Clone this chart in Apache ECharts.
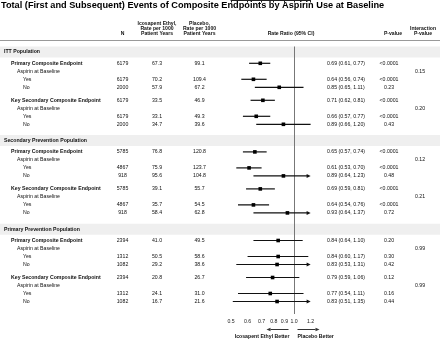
<!DOCTYPE html>
<html>
<head>
<meta charset="utf-8">
<script src="https://cdn.jsdelivr.net/npm/echarts@6/dist/echarts.min.js"></script>
<style>
  html, body { margin: 0; padding: 0; background: #fff; }
  #chart { width: 440px; height: 343px; }
</style>
</head>
<body>
<div id="chart"></div>
<script>
// ---- data ----
const populations = ['ITT Population', 'Secondary Prevention Population', 'Primary Prevention Population'];
const endpoints = ['Primary Composite Endpoint', 'Key Secondary Composite Endpoint'];
const subgroupTitle = 'Aspirin at Baseline';
const subgroups = ['Yes', 'No'];

// one value per plotted row: population x endpoint x (overall, Yes, No)
const patientsN     = [6179, 6179, 2000, 6179, 6179, 2000, 5785, 4867, 918, 5785, 4867, 918, 2394, 1312, 1082, 2394, 1312, 1082];
const icosapentRate = [67.3, 70.2, 57.9, 33.5, 33.1, 34.7, 76.8, 75.9, 95.6, 39.1, 35.7, 58.4, 41.0, 50.5, 29.2, 20.8, 24.1, 16.7];
const placeboRate   = [99.1, 109.4, 67.2, 46.9, 49.3, 39.6, 120.8, 123.7, 104.8, 55.7, 54.5, 62.8, 49.5, 58.6, 38.6, 26.7, 31.0, 21.6];
const rateRatio     = [0.69, 0.64, 0.85, 0.71, 0.66, 0.89, 0.65, 0.61, 0.89, 0.69, 0.64, 0.93, 0.84, 0.84, 0.83, 0.79, 0.77, 0.83];
const ciLower       = [0.61, 0.56, 0.65, 0.62, 0.57, 0.66, 0.57, 0.53, 0.64, 0.59, 0.54, 0.64, 0.64, 0.60, 0.53, 0.59, 0.54, 0.51];
const ciUpper       = [0.77, 0.74, 1.11, 0.81, 0.77, 1.20, 0.74, 0.70, 1.23, 0.81, 0.76, 1.37, 1.10, 1.17, 1.31, 1.06, 1.11, 1.35];
const pValues       = ['<0.0001', '<0.0001', '0.23', '<0.0001', '<0.0001', '0.43',
                       '<0.0001', '<0.0001', '0.48', '<0.0001', '<0.0001', '0.72',
                       '0.20', '0.30', '0.42', '0.12', '0.16', '0.44'];
// one value per population x endpoint
const interactionP  = ['0.15', '0.20', '0.12', '0.21', '0.99', '0.99'];

const axisTicks = [0.5, 0.6, 0.7, 0.8, 0.9, 1.0, 1.2];
const AXIS_MIN = 0.5, AXIS_MAX = 1.2;

const headerN         = ['N'];
const headerIcosapent = ['Icosapent Ethyl,', 'Rate per 1000', 'Patient Years'];
const headerPlacebo   = ['Placebo,', 'Rate per 1000', 'Patient Years'];
const headerRatio     = ['Rate Ratio (95% CI)'];
const headerP         = ['P-value'];
const headerInter     = ['Interaction', 'P-value'];
const favourLeft  = 'Icosapent Ethyl Better';
const favourRight = 'Placebo Better';
const titleText = 'Total (First and Subsequent) Events of Composite Endpoints by Aspirin Use at Baseline';

// ---- layout ----
const FONT = '"Liberation Sans", Arial, Helvetica, sans-serif';
const F_HEAD = 'bold 5.1px ' + FONT;
const F_BOLD = 'bold 5.2px ' + FONT;
const F_NORM = '5.2px ' + FONT;
const W = 440, H = 343, AXIS_Y = 314;
const ROW = 8, HEAD_GAP = 11.3, EP_GAP = 13, SEC_GAP = 16.3, FIRST_Y = 52, BAND_H = 11;
const COL = { section: 4, endpoint: 11, subtitle: 17, subgroup: 23, n: 122.5, ico: 157, pla: 199.5, ratio: 327, p: 389, inter: 420 };
const HEADER_BOTTOM = 34, HEADER_LINE = 5, RULE_Y = 40;

const L = Math.log;
const texts = [];
const sectionY = [];
const rowY = [];
function addText(x, y, text, font, align) {
  texts.push({ x, y, text, font, align: align || 'left' });
}

// column headers, bottom aligned
[[headerN, COL.n], [headerIcosapent, COL.ico], [headerPlacebo, COL.pla],
 [headerRatio, 291], [headerP, 393], [headerInter, 423]].forEach(([lines, x]) => {
  lines.forEach((t, k) => addText(x, HEADER_BOTTOM - (lines.length - 1 - k) * HEADER_LINE, t, F_HEAD, 'center'));
});

let y = FIRST_Y;
populations.forEach((pop, p) => {
  if (p > 0) y += SEC_GAP;
  sectionY.push(y);
  addText(COL.section, y, pop, F_BOLD);
  endpoints.forEach((ep, e) => {
    y += e === 0 ? HEAD_GAP : EP_GAP;
    const g = p * endpoints.length + e;
    const base = g * 3;
    rowY[base] = y;
    addText(COL.endpoint, y, ep, F_BOLD);
    y += ROW;
    addText(COL.subtitle, y, subgroupTitle, F_NORM);
    addText(COL.inter, y, interactionP[g], F_NORM, 'center');
    subgroups.forEach((sg, k) => {
      y += ROW;
      rowY[base + 1 + k] = y;
      addText(COL.subgroup, y, sg, F_NORM);
    });
  });
});

rowY.forEach((ry, i) => {
  addText(COL.n, ry, String(patientsN[i]), F_NORM, 'center');
  addText(COL.ico, ry, icosapentRate[i].toFixed(1), F_NORM, 'center');
  addText(COL.pla, ry, placeboRate[i].toFixed(1), F_NORM, 'center');
  addText(COL.ratio, ry, rateRatio[i].toFixed(2) + ' (' + ciLower[i].toFixed(2) + ', ' + ciUpper[i].toFixed(2) + ')', F_NORM);
  addText(COL.p, ry, pValues[i], F_NORM, 'center');
});

const forestData = rowY.map((ry, i) => [L(ciLower[i]), L(ciUpper[i]), L(rateRatio[i]), ry]);

const chart = echarts.init(document.getElementById('chart'), null, { renderer: 'canvas' });
chart.setOption({
  backgroundColor: '#fff',
  animation: false,
  title: {
    text: titleText, left: 1, top: 0, padding: [1, 0, 0, 0],
    textStyle: { fontFamily: FONT, fontSize: 9.2, fontWeight: 'bold', color: '#000' }
  },
  grid: [
    { left: 0, top: 0, width: W, height: H },
    { left: 231, top: 0, width: 79.6, height: AXIS_Y }
  ],
  xAxis: [
    { gridIndex: 0, type: 'value', min: 0, max: W, show: false },
    {
      gridIndex: 1, type: 'value', min: L(AXIS_MIN), max: L(AXIS_MAX),
      axisLine: { show: true, lineStyle: { color: '#222', width: 1 } },
      axisTick: { show: true, length: 2.5, customValues: axisTicks.map(L), lineStyle: { color: '#222' } },
      axisLabel: {
        customValues: axisTicks.map(L), margin: 5,
        fontFamily: FONT, fontSize: 5.2, color: '#222',
        formatter: v => Math.exp(v).toFixed(1)
      },
      splitLine: { show: false }
    }
  ],
  yAxis: [
    { gridIndex: 0, type: 'value', min: 0, max: H, inverse: true, show: false },
    { gridIndex: 1, type: 'value', min: 0, max: AXIS_Y, inverse: true, show: false }
  ],
  series: [
    {
      // grey population bands and the header rule
      type: 'custom', xAxisIndex: 0, yAxisIndex: 0, z: 1, silent: true,
      data: sectionY.map(sy => [0, sy]),
      renderItem(params, api) {
        const sy = api.value(1);
        const a = api.coord([0, sy - BAND_H / 2]);
        const b = api.coord([W, sy + BAND_H / 2]);
        const children = [{ type: 'rect', shape: { x: a[0], y: a[1], width: b[0] - a[0], height: b[1] - a[1] }, style: { fill: '#efefef' } }];
        if (params.dataIndex === 0) {
          const r1 = api.coord([0, RULE_Y]), r2 = api.coord([W, RULE_Y]);
          children.push({ type: 'line', shape: { x1: r1[0], y1: r1[1] + 0.5, x2: r2[0], y2: r2[1] + 0.5 }, style: { stroke: '#999', lineWidth: 1 } });
        }
        return { type: 'group', children };
      }
    },
    {
      // null line at rate ratio 1 and the favour arrows beneath the axis
      type: 'custom', xAxisIndex: 1, yAxisIndex: 1, z: 2, silent: true,
      data: [[L(1), sectionY[0] - BAND_H / 2, AXIS_Y]],
      renderItem(params, api) {
        const top = api.coord([api.value(0), api.value(1)]);
        const bot = api.coord([api.value(0), api.value(2)]);
        const x = Math.round(top[0]) + 0.5;
        const ay = api.coord([0, 329])[1] + 0.5;
        const ty = api.coord([0, 337])[1];
        const st = { stroke: '#333', lineWidth: 1 };
        return {
          type: 'group',
          children: [
            { type: 'line', shape: { x1: x, y1: top[1], x2: x, y2: bot[1] }, style: { stroke: '#777', lineWidth: 1 } },
            { type: 'line', shape: { x1: x - 6, y1: ay, x2: x - 24, y2: ay }, style: st },
            { type: 'polygon', shape: { points: [[x - 28, ay], [x - 24, ay - 1.8], [x - 24, ay + 1.8]] }, style: { fill: '#333' } },
            { type: 'line', shape: { x1: x + 3, y1: ay, x2: x + 21, y2: ay }, style: st },
            { type: 'polygon', shape: { points: [[x + 25, ay], [x + 21, ay - 1.8], [x + 21, ay + 1.8]] }, style: { fill: '#333' } },
            { type: 'text', x: x - 5, y: ty, style: { text: favourLeft, font: F_BOLD, fill: '#111', align: 'right', verticalAlign: 'middle' } },
            { type: 'text', x: x + 3, y: ty, style: { text: favourRight, font: F_BOLD, fill: '#111', align: 'left', verticalAlign: 'middle' } }
          ]
        };
      }
    },
    {
      // confidence intervals and point estimates
      type: 'custom', xAxisIndex: 1, yAxisIndex: 1, z: 3, silent: true,
      encode: { x: [0, 1, 2], y: 3 },
      data: forestData,
      renderItem(params, api) {
        const lo = api.value(0), hi = api.value(1), rr = api.value(2), yv = api.value(3);
        const maxL = L(AXIS_MAX);
        const clipped = hi > maxL + 1e-9;
        const pLo = api.coord([lo, yv]);
        const pHi = api.coord([clipped ? maxL : hi, yv]);
        const pRr = api.coord([rr, yv]);
        const children = [{
          type: 'line',
          shape: { x1: pLo[0], y1: pLo[1], x2: clipped ? pHi[0] - 3 : pHi[0], y2: pHi[1] },
          style: { stroke: '#111', lineWidth: 1.2 }
        }];
        if (clipped) {
          children.push({ type: 'polygon', shape: { points: [[pHi[0], pHi[1]], [pHi[0] - 4, pHi[1] - 2], [pHi[0] - 4, pHi[1] + 2]] }, style: { fill: '#111' } });
        }
        const s = 3.6;
        children.push({ type: 'rect', shape: { x: pRr[0] - s / 2, y: pRr[1] - s / 2, width: s, height: s }, style: { fill: '#000' } });
        return { type: 'group', children };
      }
    },
    {
      // table text
      type: 'custom', xAxisIndex: 0, yAxisIndex: 0, z: 4, silent: true,
      data: texts.map(t => [t.x, t.y]),
      renderItem(params, api) {
        const t = texts[params.dataIndex];
        const pt = api.coord([api.value(0), api.value(1)]);
        return {
          type: 'text', x: pt[0], y: pt[1],
          style: { text: t.text, font: t.font, fill: '#111', align: t.align, verticalAlign: 'middle' }
        };
      }
    }
  ]
});
</script>
</body>
</html>
